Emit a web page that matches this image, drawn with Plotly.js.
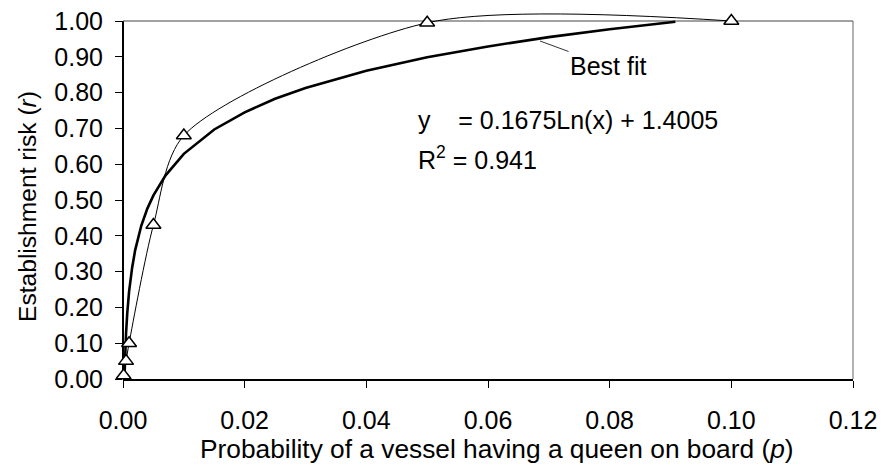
<!DOCTYPE html>
<html>
<head>
<meta charset="utf-8">
<script src="https://cdn.plot.ly/plotly-3.0.1.min.js"></script>
<style>html,body{margin:0;padding:0;background:#fff;}#chart{width:891px;height:466px;}</style>
</head>
<body>
<div id="chart"></div>
<script>
// Observed points (triangles)
const pointX = [0.0001, 0.0005, 0.001, 0.005, 0.01, 0.05, 0.10];
const pointY = [0.01, 0.05, 0.10, 0.43, 0.68, 0.995, 1.00];

// Best-fit (logarithmic trendline)
const fitX = [0.000234, 0.0003, 0.0004, 0.0005, 0.0007, 0.001, 0.0015, 0.002, 0.003, 0.004, 0.005, 0.007, 0.01, 0.015, 0.02, 0.025, 0.03, 0.04, 0.05, 0.06, 0.07, 0.08, 0.0908];
const fitY = [0.000, 0.042, 0.090, 0.127, 0.184, 0.244, 0.311, 0.360, 0.428, 0.476, 0.513, 0.569, 0.629, 0.697, 0.745, 0.783, 0.813, 0.861, 0.899, 0.929, 0.955, 0.977, 0.998];

const yTickVals = [0, 0.1, 0.2, 0.3, 0.4, 0.5, 0.6, 0.7, 0.8, 0.9, 1.0];
const xTickVals = [0, 0.02, 0.04, 0.06, 0.08, 0.10, 0.12];

const xTitle = 'Probability of a vessel having a queen on board (<i>p</i>)';
const yTitle = 'Establishment risk (<i>r</i>)';
const eqLine1 = 'y\u00a0\u00a0\u00a0 = 0.1675Ln(x) + 1.4005';
const eqLine2 = 'R<sup>2</sup> = 0.941';
const fitLabel = 'Best fit';

const FONT = 'Liberation Sans, Arial, sans-serif';

// geometry (pixels)
const L = 123, R = 853, TOP1 = 21, BOT = 379, T = 7;
const plotH = BOT - T;
const yMax = plotH / (BOT - TOP1);

const traces = [
  {
    x: fitX, y: fitY, type: 'scatter', mode: 'lines',
    line: {color: '#000', width: 2.6},
    hoverinfo: 'skip', showlegend: false
  },
  {
    x: pointX, y: pointY, type: 'scatter', mode: 'lines+markers',
    line: {color: '#000', width: 1, shape: 'spline', smoothing: 0.8},
    marker: {symbol: 'triangle-up', size: 13, color: '#fff', line: {color: '#000', width: 1.5}},
    cliponaxis: false, showlegend: false
  }
];

function px2x(p) { return (p - L) / (R - L) * 0.12; }
function py2y(p) { return (BOT - p) / (BOT - TOP1); }

const layout = {
  width: 891, height: 466,
  margin: {l: L, r: 891 - R, t: T, b: 466 - BOT, pad: 0},
  paper_bgcolor: '#fff', plot_bgcolor: '#fff',
  font: {family: FONT, size: 25, color: '#000'},
  showlegend: false,
  xaxis: {
    range: [0, 0.12], tickvals: xTickVals, tickformat: '.2f',
    ticks: 'outside', ticklen: 7, tickwidth: 1, tickcolor: '#000', ticklabelstandoff: 11,
    showline: true, linecolor: '#000', linewidth: 2,
    showgrid: false, zeroline: false, layer: 'below traces',
    tickfont: {family: FONT, size: 25, color: '#000'}
  },
  yaxis: {
    range: [0, yMax], tickvals: yTickVals, tickformat: '.2f',
    ticks: 'outside', ticklen: 7, tickwidth: 1, tickcolor: '#000', ticklabelstandoff: 7, ticksuffix: '\u2009',
    showline: false, showgrid: false, zeroline: false, layer: 'below traces',
    tickfont: {family: FONT, size: 25, color: '#000'}
  },
  shapes: [
    {type: 'line', layer: 'below', xref: 'paper', yref: 'y', x0: 0, x1: 0, y0: 0, y1: 1, line: {color: '#000', width: 2}},
    {type: 'line', layer: 'below', xref: 'x', yref: 'y', x0: 0, x1: 0.12, y0: 1, y1: 1, line: {color: '#444', width: 1}},
    {type: 'line', layer: 'below', xref: 'paper', yref: 'y', x0: 1, x1: 1, y0: 0, y1: 1, line: {color: '#666', width: 1}}
  ],
  annotations: [
    {text: eqLine1, xref: 'x', yref: 'y', x: px2x(416), y: py2y(120), xanchor: 'left', yanchor: 'middle', showarrow: false, font: {size: 25}},
    {text: eqLine2, xref: 'x', yref: 'y', x: px2x(416), y: py2y(158), xanchor: 'left', yanchor: 'middle', showarrow: false, font: {size: 25}},
    {text: fitLabel, xref: 'x', yref: 'y', x: px2x(540), y: py2y(41), ax: 68, ay: 25, showarrow: true, arrowhead: 0, arrowwidth: 1, arrowcolor: '#333', font: {size: 25}},
    {text: xTitle, xref: 'paper', yref: 'paper', x: (497 - L) / (R - L), y: (BOT - 449) / plotH, xanchor: 'center', yanchor: 'middle', showarrow: false, font: {size: 26.3}},
    {text: yTitle, xref: 'paper', yref: 'paper', x: (27 - L) / (R - L), y: (BOT - 207) / plotH, xanchor: 'center', yanchor: 'middle', textangle: -90, showarrow: false, font: {size: 24.6}}
  ]
};

Plotly.newPlot('chart', traces, layout, {displayModeBar: false, staticPlot: true});
</script>
</body>
</html>
